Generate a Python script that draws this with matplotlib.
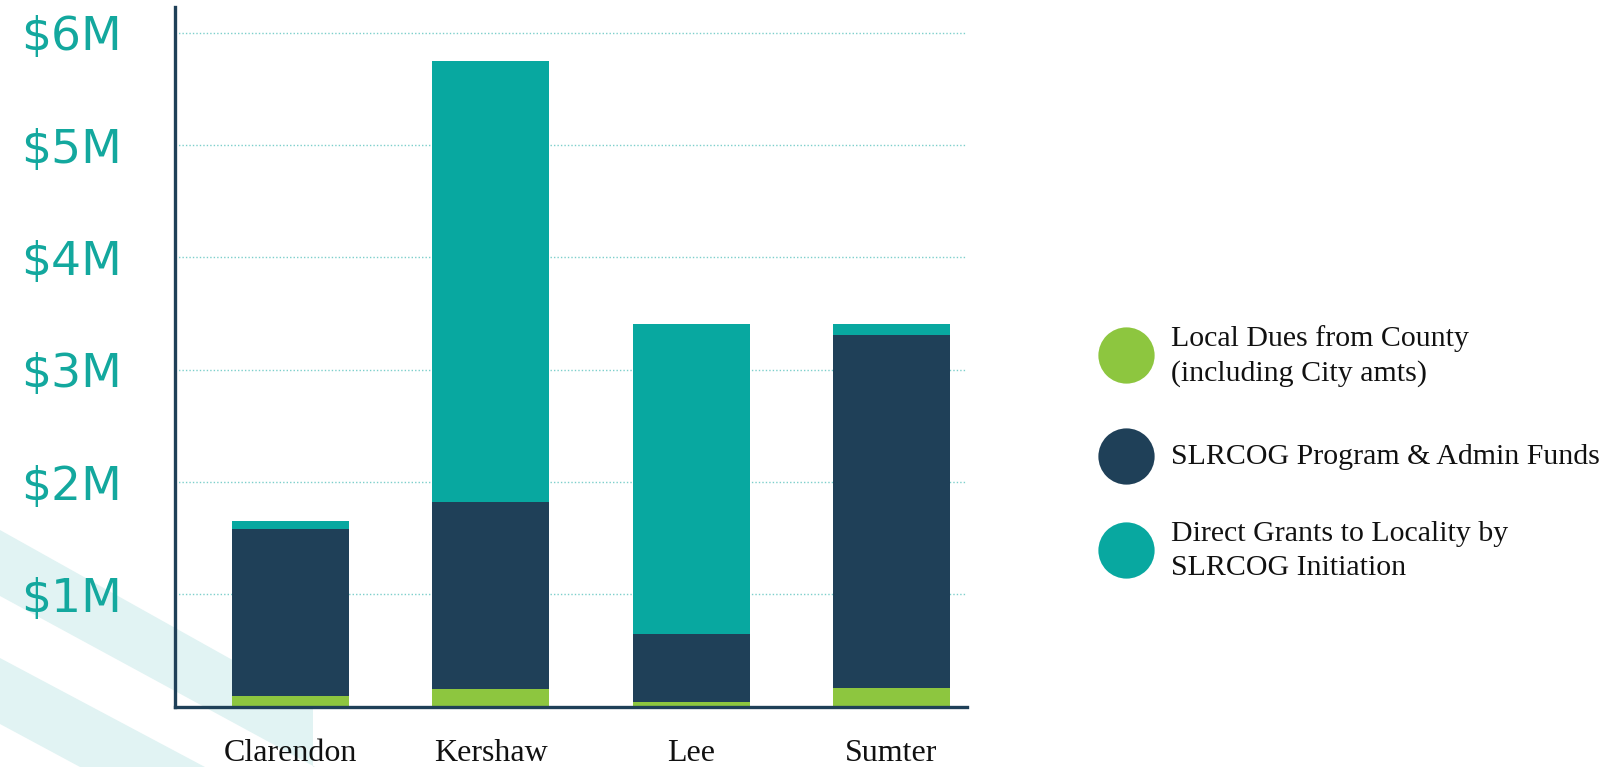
import matplotlib
matplotlib.use("Agg")
import matplotlib.pyplot as plt
from matplotlib.patches import Polygon
import numpy as np

# ---- data (millions of dollars) ----
counties = ["Clarendon", "Kershaw", "Lee", "Sumter"]
local_dues = [0.095, 0.158, 0.042, 0.167]
slrcog_funds = [1.488, 1.665, 0.605, 3.143]
direct_grants = [0.071, 3.927, 2.760, 0.097]
series_labels = ["Local Dues from County\n(including City amts)",
                 "SLRCOG Program & Admin Funds",
                 "Direct Grants to Locality by\nSLRCOG Initiation"]
y_ticks = [1, 2, 3, 4, 5, 6]
y_tick_labels = ["$1M", "$2M", "$3M", "$4M", "$5M", "$6M"]

colors = ["#8DC63F", "#1F4058", "#08A8A0"]
navy = "#1F4058"
teal_text = "#13A89E"

W, H = 1614, 767
fig = plt.figure(figsize=(W / 100, H / 100), dpi=100)

# full-figure pixel axes for decoration + legend
lax = fig.add_axes([0, 0, 1, 1], zorder=0)
lax.set_xlim(0, W)
lax.set_ylim(H, 0)
lax.axis("off")
stripe = "#E1F3F3"
lax.add_patch(Polygon([(0, 530), (313, 705), (313, 767), (315, 767), (0, 596)],
                      closed=True, color=stripe, lw=0))
lax.add_patch(Polygon([(0, 658), (205, 767), (80, 767), (0, 724)],
                      closed=True, color=stripe, lw=0))

# main axes
x0, x1 = 174.7, 967.0
yb, yt = 706.7, 7.0
ax = fig.add_axes([x0 / W, (H - yb) / H, (x1 - x0) / W, (yb - yt) / H], zorder=1)
ax.patch.set_alpha(0)

x = np.arange(len(counties))
bw = 0.584
bottom = np.zeros(len(counties))
for vals, c in zip([local_dues, slrcog_funds, direct_grants], colors):
    ax.bar(x, vals, bw, bottom=bottom, color=c, zorder=2, linewidth=0)
    bottom += np.array(vals)

ax.set_xlim(-0.578, 3.377)
ax.set_ylim(0, 6.23)
ax.set_yticks(y_ticks)
ax.set_yticklabels(y_tick_labels, fontfamily="DejaVu Sans", fontsize=34,
                   color=teal_text)
ax.set_xticks(x)
ax.set_xticklabels(counties, fontfamily="Liberation Serif", fontsize=23,
                   color="#111111")
ax.tick_params(axis="y", length=0, pad=38)
ax.tick_params(axis="x", length=0, pad=23)
ax.grid(axis="y", color="#7CCFCB", linestyle=(0, (1, 1.5)), linewidth=1.0, zorder=1)
for s in ["top", "right"]:
    ax.spines[s].set_visible(False)
for s in ["left", "bottom"]:
    ax.spines[s].set_color(navy)
    ax.spines[s].set_linewidth(2.4)
    ax.spines[s].set_zorder(5)

# legend (manual, pixel coordinates)
leg_y = [355, 456, 550]
for yy, c, lab in zip(leg_y, colors, series_labels):
    lax.scatter([1126], [yy], s=(40.5) ** 2, color=c, linewidths=0)
    lax.text(1171, yy + 1, lab, fontfamily="Liberation Serif", fontsize=21.5,
             color="#111111", va="center", ha="left", linespacing=1.4)

fig.savefig("out.png", dpi=100)
